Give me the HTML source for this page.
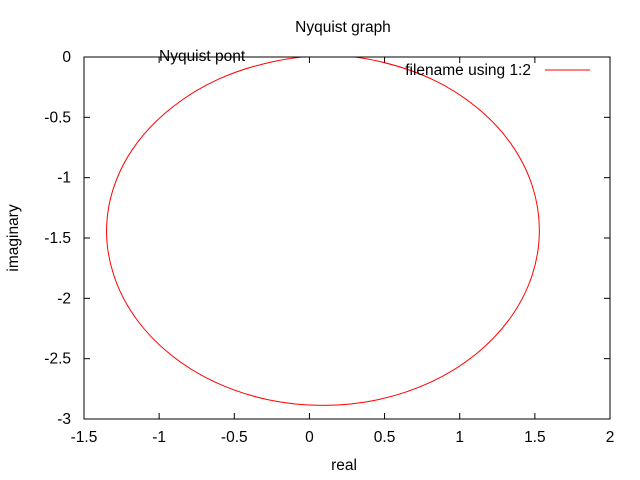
<!DOCTYPE html>
<html><head><meta charset="utf-8"><style>
body{margin:0;background:#fff}
svg{display:block;font-family:"Liberation Sans",sans-serif;font-size:15.5px}
</style></head><body>
<svg id="c" width="640" height="480">
<defs><clipPath id="pc"><rect x="84" y="57" width="526" height="362"/></clipPath></defs>
<text x="343" y="32" text-anchor="middle">Nyquist graph</text>
<text x="344" y="470" text-anchor="middle">real</text>
<text transform="translate(18,238) rotate(-90)" text-anchor="middle">imaginary</text>
<g id="axes"></g>
<path id="curve" fill="none" stroke="#ff0000" stroke-width="1" clip-path="url(#pc)"/>
<rect x="84" y="57" width="526" height="362" fill="none" stroke="#000"/>
<text x="159" y="61">Nyquist pont</text>
<text x="531" y="75" text-anchor="end">filename using 1:2</text>
<line x1="545" y1="70" x2="590" y2="70" stroke="#ff0000"/>
</svg>
<script>
const xTicks=[-1.5,-1,-0.5,0,0.5,1,1.5,2];
const yTicks=[0,-0.5,-1,-1.5,-2,-2.5,-3];
const reals=[1.53,1.481,1.337,1.108,0.81,0.463,0.14,-0.233,-0.6,-0.908,-1.147,-1.297,-1.35,-1.301,-1.157,-0.928,-0.63,-0.283,0.09,0.463,0.81,1.108,1.337,1.481];
const imags=[-1.437,-1.061,-0.712,-0.412,-0.181,-0.036,0.013,-0.036,-0.181,-0.412,-0.712,-1.061,-1.437,-1.812,-2.162,-2.462,-2.693,-2.838,-2.887,-2.838,-2.693,-2.462,-2.162,-1.812];
const X0=84,X1=610,Y0=57,Y1=419;
function sx(v){return X0+(v+1.5)/3.5*(X1-X0);}
function sy(v){return Y0+(0-v)/3*(Y1-Y0);}
const NS='http://www.w3.org/2000/svg';
const g=document.getElementById('axes');
function mk(t,a){const e=document.createElementNS(NS,t);for(const k in a)e.setAttribute(k,a[k]);g.appendChild(e);return e;}
xTicks.forEach(v=>{const x=sx(v);
const t1=mk('line',{x1:x,y1:Y1,x2:x,y2:Y1-6,stroke:'#000'});


const t2=mk('line',{x1:x,y1:Y0,x2:x,y2:Y0+6,stroke:'#000'});


const l=mk('text',{x:x,y:442,'text-anchor':'middle'});l.textContent=String(v);


});
yTicks.forEach(v=>{const y=sy(v);
const t1=mk('line',{x1:X0,y1:y,x2:X0+6,y2:y,stroke:'#000'});


const t2=mk('line',{x1:X1,y1:y,x2:X1-6,y2:y,stroke:'#000'});


const l=mk('text',{x:71,y:y+5,'text-anchor':'end'});l.textContent=String(v);


});
const n=reals.length,P=reals.map((r,i)=>[sx(r),sy(imags[i])]);
let d='M'+P[0][0]+','+P[0][1];
for(let i=0;i<n;i++){const p0=P[(i-1+n)%n],p1=P[i],p2=P[(i+1)%n],p3=P[(i+2)%n];
d+=' C'+(p1[0]+(p2[0]-p0[0])/6)+','+(p1[1]+(p2[1]-p0[1])/6)+' '+(p2[0]-(p3[0]-p1[0])/6)+','+(p2[1]-(p3[1]-p1[1])/6)+' '+p2[0]+','+p2[1];}
document.getElementById('curve').setAttribute('d',d);
</script>
</body></html>
